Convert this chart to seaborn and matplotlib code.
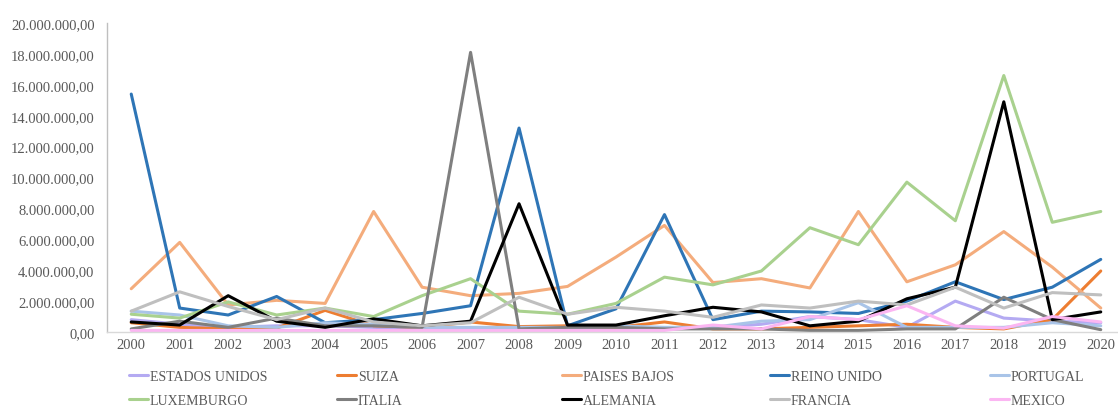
import matplotlib
matplotlib.use("Agg")
import matplotlib.pyplot as plt
import matplotlib.ticker as mticker
import seaborn as sns
import pandas as pd

years = list(range(2000, 2021))
countries = ["ESTADOS UNIDOS", "SUIZA", "PAISES BAJOS", "REINO UNIDO", "PORTUGAL",
             "LUXEMBURGO", "ITALIA", "ALEMANIA", "FRANCIA", "MEXICO"]

estados_unidos = [0.8, 0.5, 0.3, 0.4, 0.4, 0.3, 0.2, 0.2, 0.2, 0.2, 0.2, 0.2, 0.3, 0.5, 1.0, 0.8, 0.3, 2.0, 0.9, 0.7, 0.6]
suiza = [0.6, 0.3, 0.2, 0.25, 1.4, 0.4, 0.3, 0.65, 0.35, 0.4, 0.3, 0.65, 0.2, 0.2, 0.3, 0.4, 0.5, 0.3, 0.2, 0.8, 3.95]
paises_bajos = [2.8, 5.8, 1.75, 2.05, 1.85, 7.8, 2.9, 2.35, 2.5, 2.95, 4.85, 6.9, 3.2, 3.45, 2.85, 7.8, 3.25, 4.35, 6.5, 4.2, 1.55]
reino_unido = [15.4, 1.55, 1.1, 2.3, 0.6, 0.8, 1.2, 1.7, 13.2, 0.4, 1.5, 7.6, 0.8, 1.35, 1.3, 1.2, 2.0, 3.25, 2.1, 2.9, 4.7]
portugal = [1.35, 1.1, 0.4, 0.3, 0.6, 0.5, 0.3, 0.3, 0.3, 0.3, 0.4, 0.3, 0.3, 0.7, 0.8, 1.9, 0.3, 0.3, 0.3, 0.6, 0.4]
luxemburgo = [1.15, 0.9, 1.95, 1.1, 1.55, 1.0, 2.35, 3.45, 1.35, 1.15, 1.85, 3.55, 3.05, 3.95, 6.75, 5.65, 9.7, 7.2, 16.6, 7.1, 7.8]
italia = [0.2, 0.7, 0.3, 0.9, 0.4, 0.4, 0.3, 18.1, 0.2, 0.3, 0.3, 0.2, 0.2, 0.2, 0.1, 0.1, 0.2, 0.2, 2.25, 0.8, 0.15]
alemania = [0.65, 0.45, 2.35, 0.7, 0.3, 0.85, 0.4, 0.7, 8.3, 0.45, 0.45, 1.05, 1.6, 1.3, 0.4, 0.7, 2.15, 2.9, 14.9, 0.8, 1.3]
francia = [1.35, 2.6, 1.65, 0.8, 1.55, 0.65, 0.4, 0.6, 2.25, 1.15, 1.6, 1.35, 0.95, 1.75, 1.55, 2.0, 1.75, 2.9, 1.55, 2.55, 2.4]
mexico = [0.1, 0.1, 0.1, 0.1, 0.1, 0.1, 0.1, 0.1, 0.1, 0.1, 0.1, 0.1, 0.45, 0.2, 1.0, 0.8, 1.7, 0.4, 0.25, 1.0, 0.65]

series = [estados_unidos, suiza, paises_bajos, reino_unido, portugal,
          luxemburgo, italia, alemania, francia, mexico]
colors = ["#B4AAF2", "#ED7D31", "#F4AC7C", "#2E75B6", "#A9C4E8",
          "#A9D18E", "#7F7F7F", "#000000", "#BFBFBF", "#FBB6F2"]

rows = []
for c, vals in zip(countries, series):
    for y, v in zip(years, vals):
        rows.append({"year": y, "value": v * 1e6, "country": c})
df = pd.DataFrame(rows)

sns.set_theme(style="white")
plt.rcParams["font.family"] = ["Liberation Serif", "DejaVu Serif"]

fig = plt.figure(figsize=(11.18, 4.10), dpi=100)
ax = fig.add_axes([107 / 1118, 77 / 410, (1125 - 107) / 1118, (333 - 24) / 410])

sns.lineplot(data=df, x="year", y="value", hue="country", hue_order=countries,
             palette=dict(zip(countries, colors)), linewidth=2.2, legend=False, ax=ax)

ax.set_xlim(1999.5, 2020.5)
ax.set_ylim(0, 20e6)
ax.set_xticks(years)
ax.set_yticks([i * 2e6 for i in range(11)])

def fmt(v, pos):
    s = f"{v:,.2f}"
    return s.replace(",", "X").replace(".", ",").replace("X", ".")

ax.yaxis.set_major_formatter(mticker.FuncFormatter(fmt))
ax.set_xlabel("")
ax.set_ylabel("")
ax.tick_params(axis="both", labelsize=10.5, colors="#595959", length=0)
ax.tick_params(axis="y", pad=9)
ax.tick_params(axis="x", pad=4)
for s in ["top", "right"]:
    ax.spines[s].set_visible(False)
ax.spines["left"].set_color("#BFBFBF")
ax.spines["bottom"].set_color("#D9D9D9")
ax.spines["left"].set_linewidth(1.0)
ax.spines["bottom"].set_linewidth(1.0)
ax.grid(False)

lines = ax.get_lines()[:len(countries)]
col_x = [129, 337, 562, 770, 990]
for i, x in enumerate(col_x):
    idx = [i, i + 5]
    fig.legend([lines[j] for j in idx], [countries[j] for j in idx],
               loc="upper left", bbox_to_anchor=(x / 1118, 1 - 371 / 410),
               frameon=False, fontsize=10, handlelength=1.35, handletextpad=0.15,
               labelspacing=0.8, borderpad=0, borderaxespad=0,
               labelcolor="#595959")

fig.savefig("out.png", dpi=100)
